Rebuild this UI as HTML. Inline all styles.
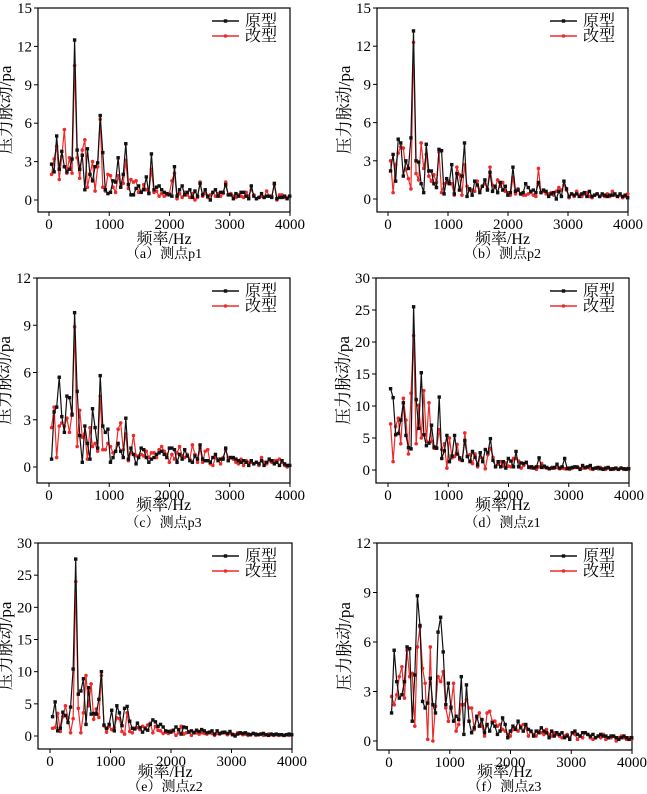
<!DOCTYPE html>
<html><head><meta charset="utf-8"><style>
html,body{margin:0;padding:0;background:#fff}
svg{display:block;font-family:"Liberation Serif","Noto Serif CJK SC",serif}
</style></head><body>
<svg id="fig" width="647" height="794" viewBox="0 0 647 794" xmlns="http://www.w3.org/2000/svg"></svg>
<script>
const xTicks = [0,1000,2000,3000,4000];
const step = 42.5;
const aBlack = [2.8,2.2,5.0,2.4,3.8,2.6,2.2,2.4,3.2,12.5,3.9,2.4,3.5,0.8,4.0,2.0,1.5,2.6,2.9,6.6,3.7,0.8,0.5,0.6,1.5,1.4,3.3,1.0,2.0,4.4,1.2,0.4,0.4,0.9,1.1,0.6,0.8,1.8,0.5,3.6,0.8,1.0,1.1,0.8,0.6,0.5,0.4,0.3,2.6,0.3,0.8,1.1,0.4,0.6,0.8,0.2,0.7,0.3,1.3,0.4,0.8,0.3,0.0,0.6,0.8,0.3,0.6,0.6,1.2,0.4,0.4,0.1,0.5,0.3,0.6,0.6,0.3,0.1,1.1,0.3,0.1,0.2,0.5,0.2,0.3,0.3,0.2,1.3,0.1,0.2,0.2,0.3,0.1,0.3];
const aRed = [2.0,3.2,4.2,1.6,3.4,5.5,2.1,3.3,2.1,10.5,3.3,1.7,3.9,4.7,1.0,2.0,3.0,0.7,2.6,6.3,1.0,0.7,2.0,1.9,1.0,0.6,1.9,1.0,1.3,3.1,0.9,1.6,1.4,1.5,0.6,0.6,1.2,0.8,0.6,2.4,0.6,0.7,0.3,0.5,0.3,0.4,0.5,1.5,2.1,0.1,0.5,0.2,0.6,0.4,0.2,0.5,0.0,0.2,1.4,0.3,0.5,0.2,0.4,0.6,0.3,0.5,0.3,0.5,1.4,0.4,0.5,0.3,0.2,0.4,0.3,0.2,0.6,0.3,0.8,0.4,0.1,0.2,0.3,0.2,0.7,0.3,0.3,1.2,0.0,0.4,0.4,0.2,0.2,0.3];
const bBlack = [2.2,3.5,1.4,4.7,4.4,1.8,3.0,2.4,4.8,13.2,3.0,2.9,1.2,0.5,4.3,2.2,2.2,1.2,0.9,3.9,3.8,0.4,1.6,1.2,2.7,0.4,2.0,0.7,1.8,4.4,0.2,0.8,0.3,1.4,1.1,0.5,1.0,1.5,0.7,2.1,0.6,1.0,0.5,1.3,0.7,1.0,0.3,0.5,2.5,0.6,0.7,0.4,0.5,1.2,0.9,0.6,0.7,0.5,1.3,0.5,0.7,0.6,0.2,0.4,0.5,0.0,0.6,0.2,1.4,0.8,0.2,0.4,0.3,0.4,0.2,0.4,0.5,0.2,0.6,0.2,0.3,0.4,0.2,0.4,0.3,0.2,0.3,0.3,0.4,0.2,0.4,0.2,0.3,0.1];
const bRed = [3.0,0.5,2.7,3.6,4.1,4.0,2.3,1.6,0.8,12.3,2.0,1.5,4.4,2.4,3.5,1.8,1.4,1.9,1.3,3.7,0.5,1.2,1.3,1.4,1.2,0.3,2.5,1.9,0.3,2.7,1.0,0.7,0.7,0.6,1.4,0.7,1.0,1.2,0.8,2.5,1.1,0.9,1.5,1.0,1.3,0.6,0.5,0.3,1.7,0.4,0.8,0.4,0.3,0.3,0.4,0.5,0.3,0.2,2.4,0.5,0.6,0.4,0.4,0.5,0.3,0.6,0.9,0.7,1.1,0.7,0.1,0.4,0.2,0.6,0.3,0.2,0.4,0.5,0.2,0.1,0.3,0.4,0.2,0.3,0.2,0.4,0.2,0.6,0.3,0.2,0.3,0.1,0.2,0.4];
const cBlack = [0.5,3.5,3.8,5.7,3.2,2.2,4.5,4.4,3.3,9.8,4.8,2.0,0.3,2.6,1.5,0.5,3.7,2.5,1.2,5.8,2.6,2.2,2.4,0.3,0.6,1.0,1.5,1.0,0.6,3.1,0.5,1.2,0.8,0.2,0.6,1.2,1.1,0.6,0.3,0.5,0.6,0.8,0.9,1.0,0.8,0.6,1.2,1.2,1.1,0.3,0.8,0.5,1.1,0.7,0.4,0.3,0.7,0.5,1.4,0.5,0.4,0.4,0.3,0.6,0.8,0.4,0.5,0.5,1.2,0.4,0.6,0.6,0.5,0.4,0.3,0.4,0.3,0.1,0.4,0.2,0.3,0.2,0.4,0.1,0.3,0.5,0.4,0.2,0.3,0.1,0.4,0.2,0.1,0.1];
const cRed = [2.5,3.8,0.6,2.6,2.8,2.6,3.1,2.2,3.4,8.9,1.3,3.6,1.9,2.1,0.5,2.5,1.3,1.5,1.0,4.5,1.1,1.1,1.5,1.3,0.9,1.0,2.4,2.8,1.1,2.1,0.4,0.9,2.0,0.7,0.7,0.8,0.7,1.0,0.6,0.9,0.9,0.6,1.1,1.3,1.0,0.8,0.3,0.8,0.5,0.9,1.3,0.7,0.6,0.8,0.5,1.4,0.8,0.3,1.2,0.3,1.0,1.1,0.2,0.1,0.6,0.5,0.2,0.6,1.1,0.6,0.6,0.5,0.3,0.2,0.5,0.1,0.4,0.3,0.3,0.2,0.3,0.1,0.6,0.3,0.2,0.4,0.3,0.4,0.4,0.5,0.3,0.1,0.0,0.1];
const dBlack = [12.7,11.3,5.5,5.7,7.8,10.5,5.4,3.5,3.3,25.5,11.0,6.5,15.2,5.5,3.8,4.2,7.0,3.6,3.4,11.4,1.8,3.0,5.4,1.3,2.2,5.4,2.5,1.9,1.5,4.6,2.1,1.3,2.9,2.0,0.8,2.7,1.3,3.2,2.7,4.9,1.5,0.5,1.3,0.5,1.3,0.3,1.8,1.4,0.5,2.9,0.5,1.1,1.0,1.2,0.4,0.5,0.3,0.5,1.9,0.4,0.6,0.4,0.2,0.3,0.4,0.9,0.3,0.5,1.8,0.2,0.3,0.4,0.5,0.4,0.1,0.7,0.4,0.5,0.7,0.2,0.3,0.4,0.2,0.1,0.3,0.4,0.1,0.2,0.3,0.1,0.3,0.2,0.1,0.2];
const dRed = [7.2,1.3,6.8,8.1,4.1,11.2,7.8,2.5,12.0,21.0,4.1,10.1,5.0,12.4,4.5,10.5,4.5,3.4,3.5,6.3,3.2,4.1,0.3,5.0,1.9,2.1,4.0,1.6,1.5,5.8,2.2,2.4,1.0,2.5,0.5,2.0,1.8,0.2,2.4,3.4,2.0,0.5,0.9,1.3,0.6,1.1,0.6,0.5,1.8,1.8,1.4,0.3,0.7,1.2,0.5,0.3,0.4,0.1,0.5,1.0,0.4,0.3,0.2,0.4,0.3,0.4,0.2,0.3,0.2,0.3,0.1,0.3,0.4,0.5,0.2,0.3,0.3,0.4,0.2,0.1,0.3,0.2,0.4,0.2,0.1,0.3,0.2,0.1,0.2,0.1,0.3,0.1,0.2,0.3];
const eBlack = [3.0,5.3,0.8,1.2,3.7,3.2,2.1,4.5,10.4,27.5,6.5,7.0,8.9,1.8,7.5,3.4,3.5,3.4,5.7,10.0,1.7,1.2,1.8,4.0,0.8,4.7,3.6,1.6,4.3,4.6,2.3,1.2,1.1,2.0,1.3,0.6,1.1,0.9,1.8,2.5,2.2,1.5,1.8,1.4,0.8,0.7,0.6,0.9,1.4,1.0,0.3,1.4,1.3,0.6,0.8,0.5,0.9,0.7,1.0,0.8,0.5,0.6,0.8,0.3,0.8,0.4,0.5,0.6,0.4,0.7,0.2,0.0,0.3,0.5,0.4,0.5,0.3,0.2,0.4,0.3,0.2,0.3,0.4,0.2,0.1,0.3,0.2,0.3,0.2,0.2,0.1,0.2,0.3,0.2];
const eRed = [1.2,1.3,3.5,0.7,3.0,4.7,2.8,0.5,2.7,24.0,4.3,0.5,3.6,9.4,4.7,8.1,2.6,4.2,2.9,9.4,1.6,0.6,1.5,1.0,1.3,2.8,2.7,0.7,0.3,3.6,0.7,0.5,1.2,1.3,1.0,1.5,1.3,1.7,2.0,0.5,1.5,0.9,0.8,0.4,0.6,0.4,0.8,0.7,0.1,0.5,1.5,0.3,0.5,0.7,0.1,0.6,0.5,0.3,0.5,0.4,0.3,0.5,0.4,0.1,0.4,0.3,0.6,0.5,0.2,0.4,0.3,0.2,0.5,0.4,0.2,0.3,0.1,0.2,0.4,0.1,0.2,0.3,0.1,0.2,0.3,0.2,0.1,0.2,0.1,0.2,0.1,0.2,0.1,0.2];
const fBlack = [1.7,5.5,3.6,2.6,2.8,3.6,5.7,5.6,1.2,4.0,8.8,7.0,2.4,2.0,2.3,3.8,2.2,1.7,6.6,7.5,5.4,2.2,3.5,2.0,1.2,1.5,1.3,3.9,0.4,3.4,1.2,0.5,0.8,1.5,0.9,1.3,0.5,1.0,0.6,1.1,0.9,0.4,0.6,1.4,1.0,0.2,0.6,0.9,0.7,1.2,0.8,0.6,1.0,0.7,0.6,0.3,0.6,0.5,0.8,0.6,0.5,0.2,0.6,0.3,0.5,0.4,0.5,0.2,0.3,0.1,0.5,0.6,0.4,0.3,0.5,0.5,0.4,0.3,0.4,0.2,0.3,0.4,0.3,0.3,0.2,0.3,0.3,0.2,0.1,0.2,0.3,0.2,0.1,0.2];
const fRed = [2.7,2.2,2.8,3.9,4.5,2.6,5.5,3.9,4.1,0.9,5.7,6.9,4.4,3.5,0.1,5.7,0.0,2.1,3.9,3.6,4.2,2.0,1.2,2.1,3.5,0.6,1.0,2.2,2.2,2.5,2.0,2.0,0.7,1.4,1.7,0.9,0.3,1.7,1.8,1.2,1.2,0.9,1.0,0.7,0.6,0.4,0.3,0.7,0.8,0.6,0.9,1.0,0.8,0.3,0.6,0.4,0.3,0.6,0.5,0.4,0.7,0.4,0.3,0.5,0.4,0.3,0.2,0.3,0.4,0.2,0.5,0.4,0.1,0.3,0.2,0.5,0.4,0.2,0.1,0.2,0.3,0.2,0.4,0.1,0.2,0.2,0.3,0.0,0.2,0.3,0.2,0.1,0.2,0.1];
const yTicksA = [0,3,6,9,12,15];
const yTicksC = [0,3,6,9,12];
const yTicksD = [0,5,10,15,20,25,30];

const panels = [
 {id:'a',cap:'（a）测点p1',L:38,x0:49,x4:290,top:8,y0:200,bot:212,yt:yTicksA,k:aBlack,r:aRed,col:0,xl:238,cy:253},
 {id:'b',cap:'（b）测点p2',L:377,x0:388,x4:628,top:8,y0:199,bot:212,yt:yTicksA,k:bBlack,r:bRed,col:1,xl:238,cy:253},
 {id:'c',cap:'（c）测点p3',L:37,x0:49,x4:290,top:278,y0:467,bot:483,yt:yTicksC,k:cBlack,r:cRed,col:0,xl:504,cy:522},
 {id:'d',cap:'（d）测点z1',L:376,x0:388,x4:629,top:278,y0:470,bot:483,yt:yTicksD,k:dBlack,r:dRed,col:1,xl:504,cy:522},
 {id:'e',cap:'（e）测点z2',L:38,x0:50,x4:292,top:543,y0:736,bot:749,yt:yTicksD,k:eBlack,r:eRed,col:0,xl:771,cy:786},
 {id:'f',cap:'（f）测点z3',L:377,x0:389,x4:632,top:543,y0:741,bot:750,yt:yTicksC,k:fBlack,r:fRed,col:1,xl:771,cy:786}
];
const NS='http://www.w3.org/2000/svg';
const svg=document.getElementById('fig');
function mk(tag,attrs,parent){const e=document.createElementNS(NS,tag);for(const a in attrs)e.setAttribute(a,attrs[a]);(parent||svg).appendChild(e);return e;}
panels.forEach(p=>{
  const g=mk('g',{});
  
  
  const ymax=p.yt[p.yt.length-1];
  const sx=v=>p.x0+(p.x4-p.x0)*v/4000;
  const sy=v=>p.y0-(p.y0-p.top)*v/ymax;
  const fr=mk('rect',{x:p.L,y:p.top,width:p.x4-p.L,height:p.bot-p.top,fill:'none',stroke:'#000','stroke-width':1.2},g);
  
  
  xTicks.forEach(t=>{
    mk('line',{x1:sx(t),x2:sx(t),y1:p.bot,y2:p.bot+4,stroke:'#000','stroke-width':1},g);
    const tx=mk('text',{x:sx(t),y:p.bot+17,'text-anchor':'middle','font-size':15},g);
    tx.textContent=t;
    
    
  });
  p.yt.forEach(t=>{
    mk('line',{x1:p.L-4,x2:p.L,y1:sy(t),y2:sy(t),stroke:'#000','stroke-width':1},g);
    const tx=mk('text',{x:p.L-6,y:sy(t)+5,'text-anchor':'end','font-size':15},g);
    tx.textContent=t;
    
    
  });
  const cx=(p.L+p.x4)/2, cym=(p.top+p.bot)/2, ylx=p.L-27;
  const yt=mk('text',{x:ylx,y:cym,'text-anchor':'middle','font-size':17,transform:`rotate(-90 ${ylx} ${cym})`},g);
  yt.textContent='压力脉动/pa';
  
  
  const xt=mk('text',{x:cx,y:p.xl+6,'text-anchor':'middle','font-size':16},g);
  xt.textContent='频率/Hz';
  
  
  const cp=mk('text',{x:cx,y:p.cy+5,'text-anchor':'middle','font-size':14},g);
  cp.textContent=p.cap;
  
  
  [[p.r,'#ee2b2b','red'],[p.k,'#111','black']].forEach(([arr,c,nm])=>{
    const pts=arr.map((v,i)=>[sx(step*(i+1)),sy(v)]);
    const pl=mk('polyline',{points:pts.map(q=>q.join(',')).join(' '),fill:'none',stroke:c,'stroke-width':1.2},g);
    
    
    pts.forEach(q=>{
      let m;
      if(nm==='black') m=mk('rect',{x:q[0]-1.7,y:q[1]-1.7,width:3.4,height:3.4,fill:c},g);
      else m=mk('circle',{cx:q[0],cy:q[1],r:1.8,fill:c},g);
      
      
    });
  });
  const lx=p.col===0?212:550, ly=p.top+13;
  [['原型','#111','black',0],['改型','#ee2b2b','red',15]].forEach(([lab,c,nm,dy])=>{
    const lg=mk('g',{},g);
    
    
    mk('line',{x1:lx,x2:lx+27,y1:ly+dy,y2:ly+dy,stroke:c,'stroke-width':1.4},lg);
    if(nm==='black') mk('rect',{x:lx+11.8,y:ly+dy-1.7,width:3.4,height:3.4,fill:c},lg);
    else mk('circle',{cx:lx+13.5,cy:ly+dy,r:1.8,fill:c},lg);
    const t=mk('text',{x:lx+33,y:ly+dy+5,'font-size':16},lg);
    t.textContent=lab;
  });
});
</script>
</body></html>
